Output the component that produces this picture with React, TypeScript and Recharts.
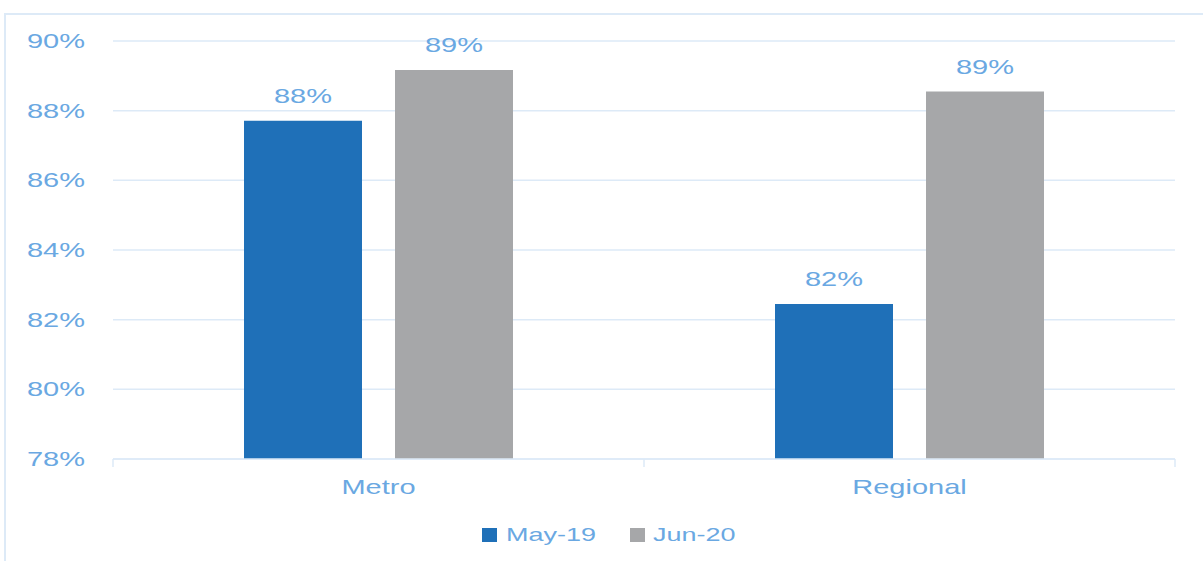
import React from "react";
import { BarChart, Bar, XAxis, YAxis, CartesianGrid, LabelList } from "recharts";

const categories = ["Metro", "Regional"];
const may19 = [87.71, 82.45];
const jun20 = [89.17, 88.55];
const seriesNames = ["May-19", "Jun-20"];
const seriesColors = ["#1F70B8", "#A6A7A9"];
const yTicks = [78, 80, 82, 84, 86, 88, 90];

const data = categories.map((c, i) => ({ name: c, may19: may19[i], jun20: jun20[i] }));

const TEXT = "#6AA8E2";
const GRID = "#DDEAF7";
const FONT = "'Liberation Sans', Arial, sans-serif";
const SX = 1.45;

const W = 1203;
const H = 561;
const M = { top: 41, right: 28, left: 0, bottom: 62 };
const Y_W = 113;
const X_H = 40;
const BAND = (W - M.left - Y_W - M.right) / categories.length;

function SText({ x, y, anchor, size, children }: any) {
  return (
    <text
      transform={`translate(${x},${y}) scale(${SX},1)`}
      textAnchor={anchor}
      fontFamily={FONT}
      fontSize={size}
      fill={TEXT}
    >
      {children}
    </text>
  );
}

const YTick = (props: any) => {
  const { x, y, payload } = props;
  return (
    <SText x={x - 28} y={y + 7} anchor="end" size={20}>
      {`${payload.value}%`}
    </SText>
  );
};

const XTick = (props: any) => {
  const { x, y, payload, index } = props;
  const last = index === categories.length - 1;
  return (
    <g>
      <line x1={x - BAND / 2} x2={x - BAND / 2} y1={y} y2={y + 8} stroke={GRID} strokeWidth={1.5} />
      {last && <line x1={x + BAND / 2} x2={x + BAND / 2} y1={y} y2={y + 8} stroke={GRID} strokeWidth={1.5} />}
      <SText x={x} y={y + 35} anchor="middle" size={20}>
        {payload.value}
      </SText>
    </g>
  );
};

const BarLabel = (props: any) => {
  const { x, y, width, value } = props;
  return (
    <SText x={x + width / 2} y={y - 18} anchor="middle" size={20}>
      {`${Math.round(value)}%`}
    </SText>
  );
};

export default function App() {
  return (
    <div style={{ position: "absolute", left: 0, top: 0, width: W, height: H, background: "#fff", overflow: "hidden" }}>
      <div
        style={{
          position: "absolute",
          left: 4,
          top: 13,
          width: 1300,
          height: 700,
          border: `2px solid ${GRID}`,
          boxSizing: "border-box",
        }}
      />
      <div style={{ position: "absolute", left: 0, top: 0 }}>
        <BarChart width={W} height={H} data={data} margin={M} barSize={118} barGap={33}>
          <CartesianGrid vertical={false} stroke={GRID} strokeWidth={1.5} />
          <XAxis
            dataKey="name"
            height={X_H}
            axisLine={{ stroke: GRID, strokeWidth: 1.5 }}
            tickLine={false}
            tickSize={0}
            tickMargin={0}
            tick={<XTick />}
            interval={0}
          />
          <YAxis
            width={Y_W}
            domain={[78, 90]}
            ticks={yTicks}
            allowDataOverflow
            axisLine={false}
            tickLine={false}
            tickSize={0}
            tickMargin={0}
            tick={<YTick />}
            interval={0}
          />
          <Bar dataKey="may19" name={seriesNames[0]} fill={seriesColors[0]} isAnimationActive={false}>
            <LabelList dataKey="may19" content={<BarLabel />} />
          </Bar>
          <Bar dataKey="jun20" name={seriesNames[1]} fill={seriesColors[1]} isAnimationActive={false}>
            <LabelList dataKey="jun20" content={<BarLabel />} />
          </Bar>
        </BarChart>
      </div>
      <svg style={{ position: "absolute", left: 0, top: 515 }} width={W} height={40}>
        <rect x={482} y={13} width={15} height={14} fill={seriesColors[0]} />
        <text transform={`translate(506,26) scale(1.42,1)`} fontFamily={FONT} fontSize={19} fill={TEXT}>
          {seriesNames[0]}
        </text>
        <rect x={630} y={13} width={15} height={14} fill={seriesColors[1]} />
        <text transform={`translate(653,26) scale(1.42,1)`} fontFamily={FONT} fontSize={19} fill={TEXT}>
          {seriesNames[1]}
        </text>
      </svg>
    </div>
  );
}
